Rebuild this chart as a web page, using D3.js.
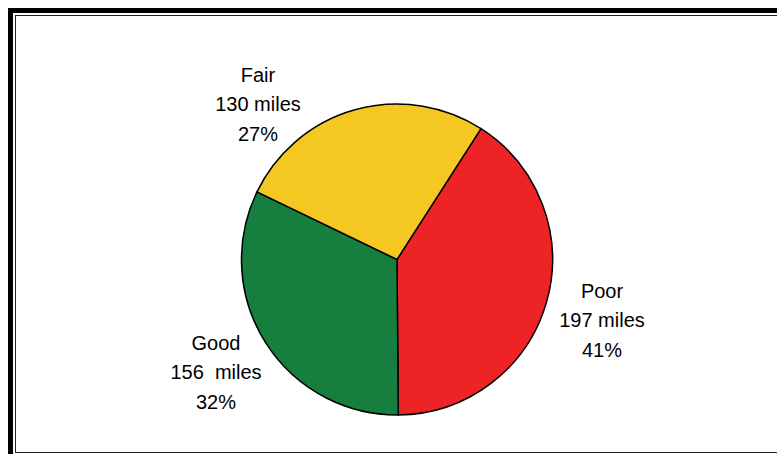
<!DOCTYPE html>
<html>
<head>
<meta charset="utf-8">
<script src="https://cdn.jsdelivr.net/npm/d3@7"></script>
<style>
html,body{margin:0;padding:0;background:#fff;}
svg{display:block;}
</style>
</head>
<body>
<svg id="chart" width="777" height="454"></svg>
<script>
const categories = ["Poor", "Good", "Fair"];
const miles = [197, 156, 130];
const mileLabels = ["197 miles", "156  miles", "130 miles"];
const percentLabels = ["41%", "32%", "27%"];
const colors = ["#EE2325", "#167E3E", "#F5C723"];

const svg = d3.select("#chart");

// frame
svg.append("rect").attr("x", 10.5).attr("y", 10.5).attr("width", 820).attr("height", 470)
  .attr("fill", "none").attr("stroke", "#000").attr("stroke-width", 5);
svg.append("rect").attr("x", 15.5).attr("y", 15.5).attr("width", 820).attr("height", 437)
  .attr("fill", "none").attr("stroke", "#222").attr("stroke-width", 1);

const cx = 397, cy = 259.5, r = 155.5;
const start = 32.7 * Math.PI / 180;
const pie = d3.pie().sort(null).value(d => d).startAngle(start).endAngle(start + 2 * Math.PI);
const arcs = pie(miles);
const arc = d3.arc().innerRadius(0).outerRadius(r);

const g = svg.append("g").attr("transform", `translate(${cx},${cy})`);
g.selectAll("path").data(arcs).join("path")
  .attr("d", arc)
  .attr("fill", (d, i) => colors[i])
  .attr("stroke", "#000")
  .attr("stroke-width", 1.5)
  .attr("stroke-linejoin", "round");

// label positions (absolute) for each category: x center, first baseline
const labelPos = [[602, 298], [216, 350], [258, 82]];
const lh = 29.3;
categories.forEach((c, i) => {
  const t = svg.append("text")
    .attr("text-anchor", "middle")
    .attr("font-family", "Liberation Sans, Arial, sans-serif")
    .attr("font-size", "20px")
    .attr("fill", "#000")
    .style("white-space", "pre")
    .attr("xml:space", "preserve");
  [c, mileLabels[i], percentLabels[i]].forEach((s, j) => {
    t.append("tspan").attr("x", labelPos[i][0]).attr("y", labelPos[i][1] + j * lh).text(s);
  });
});
</script>
</body>
</html>
